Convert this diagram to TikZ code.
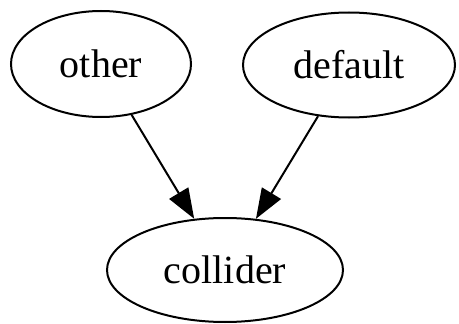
\documentclass[tikz,border=0pt]{standalone}
\usepackage{fontspec}
\setmainfont{Liberation Serif}
\usetikzlibrary{arrows.meta,shapes.geometric}
\begin{document}
\begin{tikzpicture}[x=1pt,y=-1pt,
  gnode/.style={draw, line width=2pt, ellipse, inner sep=0pt, font=\fontsize{40}{40}\selectfont},
  gedge/.style={line width=2pt, -{Triangle[length=30pt,width=22pt]}}]
\useasboundingbox (0,0) rectangle (459,324);
\node[gnode, minimum width=180pt, minimum height=106pt] (other) at (101,64) {other};
\node[gnode, minimum width=212pt, minimum height=105pt] (default) at (349,65) {default};
\node[gnode, minimum width=236pt, minimum height=104pt] (collider) at (225,270) {collider};
\draw[gedge] (other) -- (collider);
\draw[gedge] (default) -- (collider);
\end{tikzpicture}
\end{document}
